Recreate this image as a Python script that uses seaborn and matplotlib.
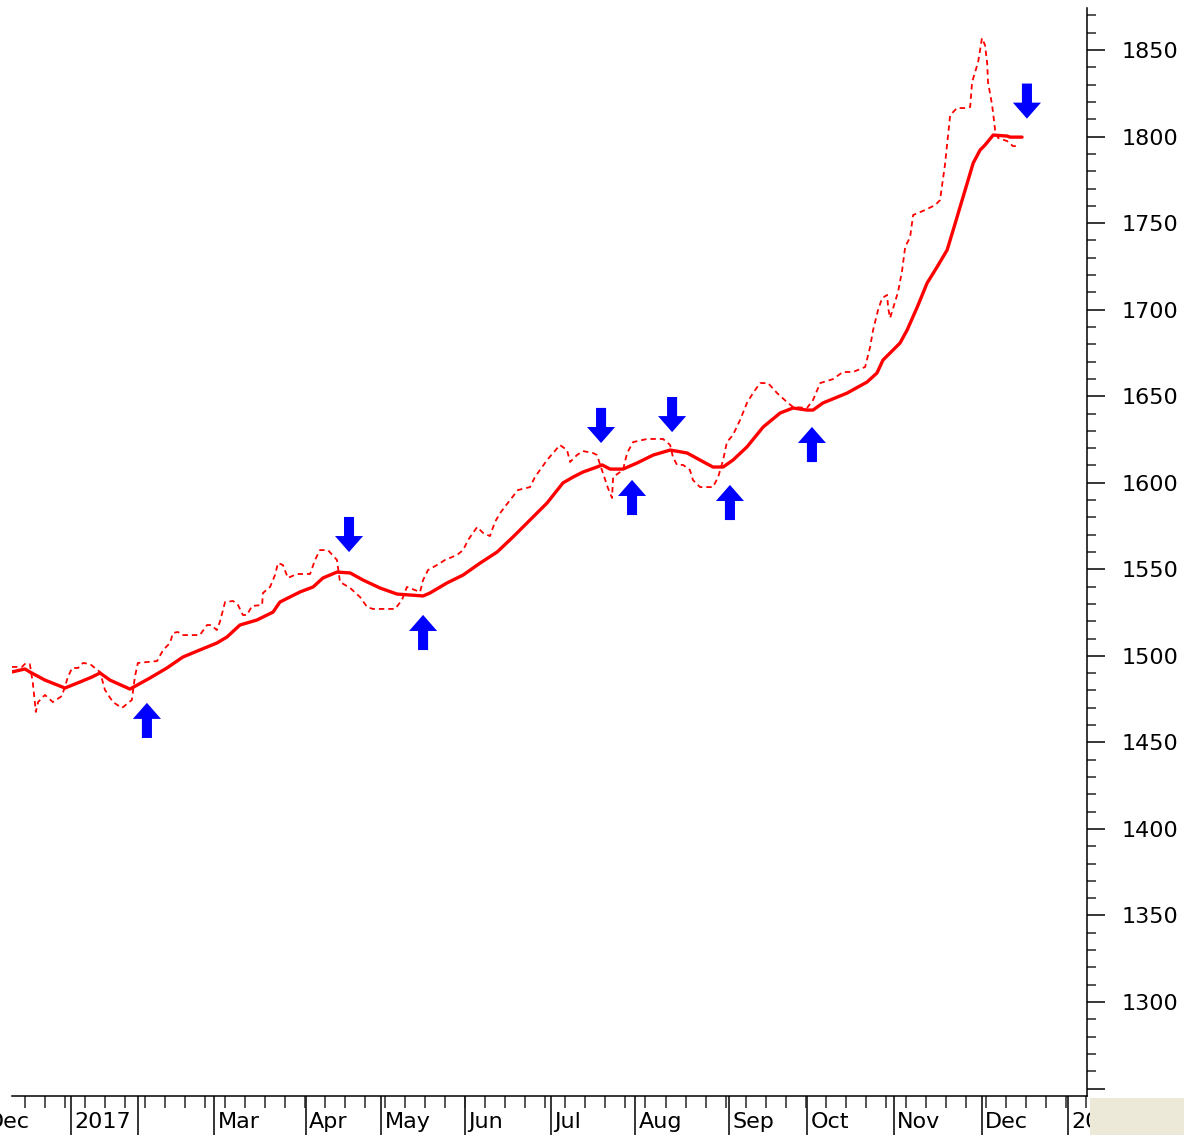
import numpy as np
import pandas as pd
import matplotlib
matplotlib.use("Agg")
import matplotlib.pyplot as plt
import seaborn as sns
from matplotlib.path import Path
from matplotlib.patches import Rectangle
from matplotlib.ticker import MultipleLocator

# weekly closes (dashed) - x in days from 1 Jan 2017
price_day = [-21.5, -17.9, -16.8, -15.0, -13.9, -12.8, -12.0, -9.5, -6.6, -3.3, -1.1, 0.4, 2.6, 4.4, 6.9,
             10.6, 12.4, 15.3, 18.6, 22.2, 23.3, 24.4, 31.4, 33.6, 36.1, 37.2, 39.0, 40.5, 47.0, 49.6, 51.1,
             53.2, 54.3, 56.2, 59.1, 60.9, 62.7, 64.2, 66.0, 69.7, 70.0, 72.6, 74.4, 75.5, 77.3, 79.1, 82.4,
             87.2, 89.0, 90.8, 93.7, 97.0, 98.1, 101.8, 105.4, 108.0, 110.1, 118.2, 120.7, 122.5, 127.3,
             128.4, 130.2, 133.5, 136.4, 140.8, 143.0, 144.8, 148.1, 150.3, 152.8, 154.6, 156.5, 160.1,
             163.0, 167.4, 169.2, 173.6, 178.3, 180.9, 182.0, 184.5, 186.7, 190.4, 191.8, 194.0, 195.8,
             197.3, 197.7, 201.3, 202.8, 205.0, 210.1, 215.9, 218.5, 219.5, 221.0, 223.2, 225.7, 226.8,
             229.4, 234.1, 236.0, 237.8, 239.2, 241.4, 244.0, 246.5, 248.7, 251.3, 254.2, 257.5, 261.1,
             263.3, 268.4, 270.6, 273.2, 277.9, 281.5, 285.2, 289.6, 291.4, 292.5, 294.3, 295.8, 297.6,
             298.0, 298.7, 300.5, 301.6, 303.1, 304.2, 306.0, 307.1, 311.5, 315.2, 316.9, 318.7, 320.6,
             323.1, 326.0, 327.9, 328.6, 329.7, 330.8, 332.2, 333.3, 334.1, 334.4, 335.9, 337.0, 338.1,
             341.4, 343.5, 345.0]
price_val = [1493.6, 1493.6, 1495.3, 1495.3, 1484.3, 1467.6, 1473.3, 1477.4, 1473.3, 1476.8, 1487.8, 1493.0,
             1493.0, 1495.9, 1495.3, 1490.7, 1480.3, 1473.3, 1469.9, 1474.5, 1487.8, 1495.9, 1497.0, 1503.4,
             1507.4, 1513.2, 1513.8, 1512.0, 1512.0, 1517.8, 1517.8, 1514.9, 1519.6, 1531.1, 1531.7, 1529.4,
             1523.6, 1523.6, 1528.8, 1529.4, 1536.3, 1539.8, 1546.7, 1553.6, 1552.5, 1545.0, 1547.3, 1547.3,
             1555.4, 1561.1, 1561.1, 1555.4, 1542.7, 1539.2, 1534.0, 1528.2, 1527.1, 1527.1, 1532.3, 1539.8,
             1536.9, 1543.8, 1549.6, 1552.5, 1555.4, 1558.3, 1561.1, 1566.9, 1574.4, 1571.0, 1569.2, 1577.3,
             1582.5, 1590.0, 1595.8, 1597.5, 1603.3, 1613.1, 1621.8, 1618.9, 1612.0, 1616.0, 1618.3, 1617.2,
             1616.0, 1605.6, 1597.0, 1591.2, 1603.3, 1607.4, 1617.2, 1623.5, 1625.3, 1625.3, 1621.8, 1614.9,
             1610.3, 1610.3, 1607.4, 1601.6, 1597.5, 1597.5, 1603.3, 1613.1, 1623.5, 1627.6, 1636.3, 1646.1,
             1651.8, 1657.6, 1657.6, 1651.8, 1646.6, 1643.8, 1643.2, 1647.8, 1657.6, 1659.9, 1664.0, 1664.0,
             1666.9, 1678.4, 1688.2, 1699.8, 1706.7, 1708.5, 1701.0, 1695.2, 1704.4, 1710.2, 1722.9, 1736.2,
             1742.0, 1754.7, 1757.6, 1760.5, 1763.3, 1783.6, 1812.4, 1816.5, 1816.5, 1817.1, 1831.5, 1837.3,
             1843.1, 1856.9, 1852.9, 1842.5, 1831.5, 1818.2, 1803.8, 1799.2, 1797.4, 1794.5, 1794.5]

# moving average (solid)
ma_day = [-21.5, -16.8, -15.0, -9.5, -2.2, 3.3, 7.7, 10.6, 14.2, 21.5, 28.8, 35.0, 40.8, 47.0, 53.2, 56.9,
          61.6, 67.8, 73.7, 76.2, 83.5, 88.3, 91.9, 97.0, 101.8, 106.5, 112.7, 118.9, 128.4, 130.9, 137.1,
          143.0, 149.2, 155.4, 161.2, 167.4, 173.6, 179.4, 183.1, 186.7, 191.8, 193.7, 196.6, 201.3, 206.4,
          212.3, 218.5, 224.7, 229.4, 234.1, 237.8, 241.4, 246.5, 252.4, 258.6, 263.3, 268.4, 270.6, 274.2,
          283.0, 290.3, 293.9, 296.1, 298.7, 302.3, 304.9, 308.6, 312.2, 315.8, 319.5, 321.7, 325.3, 329.0,
          331.5, 333.3, 336.3, 341.4, 342.5, 346.8]
ma_val = [1490.7, 1492.4, 1490.7, 1486.0, 1481.4, 1484.9, 1487.8, 1490.1, 1486.0, 1480.8, 1487.2, 1493.0,
          1499.3, 1503.4, 1507.4, 1510.9, 1517.8, 1520.7, 1525.3, 1531.1, 1536.9, 1539.8, 1545.0, 1548.4,
          1547.9, 1543.8, 1539.2, 1535.7, 1534.6, 1536.3, 1542.1, 1546.7, 1553.6, 1560.0, 1568.7, 1578.5,
          1588.3, 1599.9, 1603.3, 1606.2, 1609.1, 1610.3, 1607.9, 1607.9, 1611.4, 1616.0, 1618.9, 1617.2,
          1613.1, 1609.1, 1609.1, 1613.1, 1620.7, 1632.2, 1640.3, 1643.2, 1642.0, 1642.0, 1646.1, 1651.8,
          1658.2, 1663.4, 1670.9, 1675.0, 1680.7, 1688.2, 1701.5, 1715.4, 1724.6, 1734.5, 1746.0, 1765.1,
          1784.7, 1792.2, 1795.1, 1800.9, 1800.3, 1799.7, 1799.7]

# buy / sell signals
buy_day = [27.7, 128.4, 204.6, 240.3, 270.2]
buy_val = [1462.7, 1513.5, 1591.5, 1588.6, 1622.1]
sell_day = [101.4, 193.3, 219.2, 348.6]
sell_val = [1570.1, 1633.1, 1639.4, 1820.5]

# month ticks
month_day = [-32.0, 0.0, 24.4, 52.3, 85.7, 113.1, 143.7, 175.1, 205.7, 240.0, 268.4, 300.0, 332.1, 363.5]
month_lab = ["Dec", "2017", "", "Mar", "Apr", "May", "Jun", "Jul", "Aug", "Sep", "Oct", "Nov", "Dec", "2018"]

price = pd.DataFrame({"day": price_day, "close": price_val})
ma = pd.DataFrame({"day": ma_day, "ma": ma_val})
buy = pd.DataFrame({"day": buy_day, "val": buy_val})
sell = pd.DataFrame({"day": sell_day, "val": sell_val})

sns.set_style("white")
plt.rcParams["font.family"] = ["DejaVu Sans"]

fig = plt.figure(figsize=(11.97, 11.38), dpi=100)
ax = fig.add_axes([12 / 1197, 42 / 1138, 1075 / 1197, 1088 / 1138])

sns.lineplot(data=price, x="day", y="close", ax=ax, color="#ff0000", lw=1.3,
             linestyle=(0, (3, 2.2)), estimator=None, sort=False)
sns.lineplot(data=ma, x="day", y="ma", ax=ax, color="#ff0000", lw=2.4,
             estimator=None, sort=False)

# block arrow markers
up_verts = [(0, 1), (0.8, 0.086), (0.286, 0.086), (0.286, -1), (-0.286, -1),
            (-0.286, 0.086), (-0.8, 0.086), (0, 1)]
up_arrow = Path(up_verts, closed=True)
down_arrow = Path([(x, -y) for x, y in up_verts], closed=True)

sns.scatterplot(data=buy, x="day", y="val", ax=ax, marker=up_arrow, s=640,
                color="#0000ff", edgecolor="none", linewidth=0, zorder=5)
sns.scatterplot(data=sell, x="day", y="val", ax=ax, marker=down_arrow, s=640,
                color="#0000ff", edgecolor="none", linewidth=0, zorder=5)

ax.set_xlim(-21.5, 370.5)
ax.set_ylim(1245.7, 1874.3)
ax.set_xlabel("")
ax.set_ylabel("")

for s in ["left", "top"]:
    ax.spines[s].set_visible(False)
for s in ["bottom", "right"]:
    ax.spines[s].set_color("black")
    ax.spines[s].set_linewidth(1.1)

# y axis on the right
ax.yaxis.tick_right()
ax.set_yticks(np.arange(1250, 1851, 50))
ax.set_yticklabels([""] + [str(v) for v in range(1300, 1851, 50)])
ax.yaxis.set_minor_locator(MultipleLocator(10))
ax.tick_params(axis="y", which="major", direction="out", length=13, width=1.1,
               pad=12, labelsize=16, colors="black", right=True, left=False)
ax.tick_params(axis="y", which="minor", direction="out", length=6.5, width=1.1,
               right=True, left=False)

# x axis: tall month ticks, short weekly ticks
ax.set_xticks(month_day[1:])
ax.set_xticklabels([])
ax.xaxis.set_minor_locator(MultipleLocator(7.3, offset=5.1))
ax.tick_params(axis="x", which="major", direction="out", length=28, width=1.1,
               bottom=True, colors="black")
ax.tick_params(axis="x", which="minor", direction="out", length=8.5, width=1.1,
               bottom=True)

for d, lab in zip(month_day, month_lab):
    if lab:
        ax.text(d + 1.2, -0.0145, lab, transform=ax.get_xaxis_transform(), ha="left",
                va="top", fontsize=16, color="black", clip_on=False)

# grey status box at bottom right
fig.add_artist(Rectangle((1090 / 1197, 3 / 1138), 94 / 1197, 37 / 1138,
                         transform=fig.transFigure, facecolor="#ece9d8",
                         edgecolor="none", zorder=10))

fig.savefig("out.png", dpi=100)
